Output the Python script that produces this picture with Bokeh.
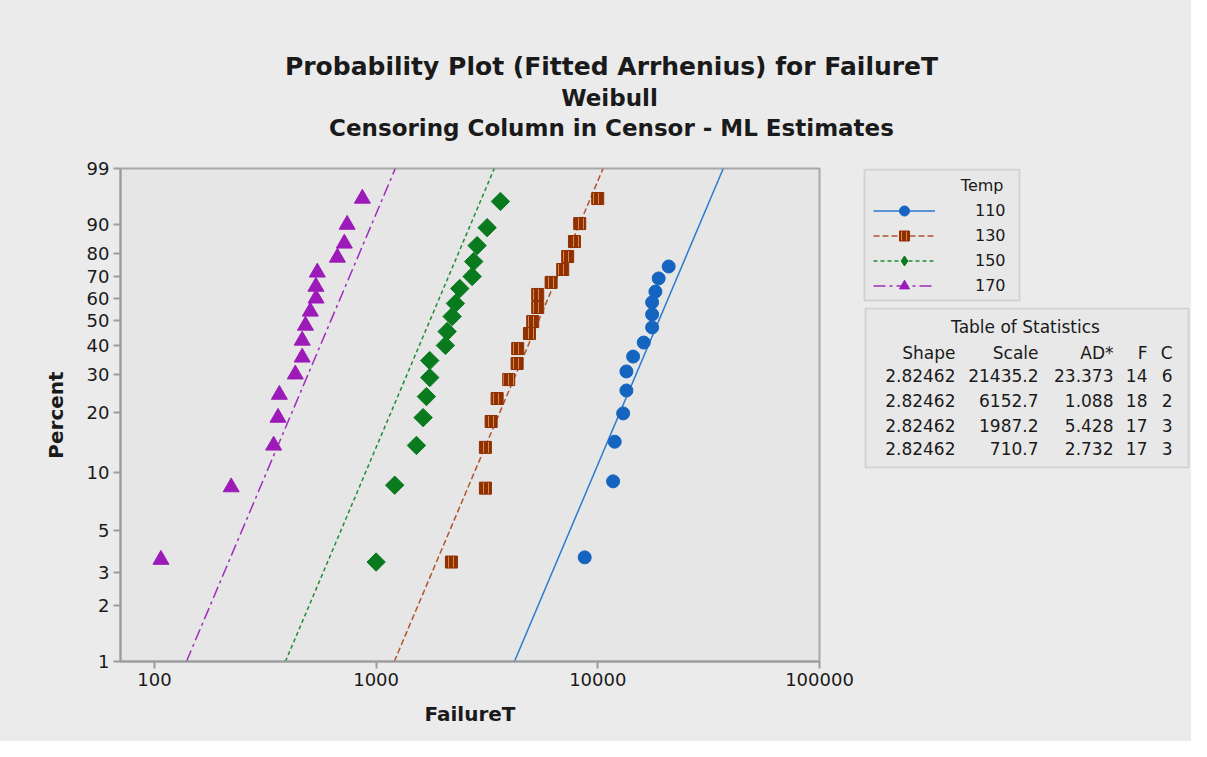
import numpy as np
from bokeh.plotting import figure
from bokeh.layouts import column, row
from bokeh.models import (Range1d, FixedTicker, CustomJSTickFormatter, Label,
                          Legend, LegendItem, BoxAnnotation)
from bokeh.embed import file_html
from bokeh.resources import INLINE

# ---------------- data ----------------
temps = ["110", "130", "150", "170"]
shape = [2.82462, 2.82462, 2.82462, 2.82462]
scale = [21435.2, 6152.7, 1987.2, 710.7]
ad_stat = ["23.373", "1.088", "5.428", "2.732"]
n_fail = ["14", "18", "17", "17"]
n_cens = ["6", "2", "3", "3"]

t110 = [20880, 18820, 18190, 17580, 17580, 17580, 16110, 14430, 13460, 13460, 13010, 11920, 11720, 8728]
p110 = [74.4, 69.1, 63.1, 58.2, 52.8, 47.2, 41.1, 35.9, 30.9, 25.3, 19.7, 14.3, 9.0, 3.6]

t130 = [9991, 8287, 7846, 7313, 6945, 6157, 5357, 5357, 5087, 4915, 4351, 4325, 3964, 3514, 3302, 3112, 3112, 2186]
p130 = [95.8, 90.2, 84.4, 78.6, 73.1, 67.3, 61.8, 55.9, 49.7, 44.7, 38.8, 33.5, 28.4, 23.2, 18.0, 13.4, 8.3, 3.4]

t150 = [3637, 3168, 2855, 2756, 2710, 2384, 2279, 2202, 2091, 2054, 1745, 1745, 1686, 1629, 1520, 1213, 1000]
p150 = [95.3, 89.0, 82.9, 76.5, 70.0, 64.5, 57.7, 51.9, 45.5, 40.0, 34.5, 29.0, 23.7, 18.8, 13.7, 8.6, 3.4]

t170 = [867, 740, 719, 669, 543, 535, 536, 505, 480, 464, 464, 432, 366, 361, 345, 222, 107]
p170 = [95.8, 89.9, 83.7, 78.2, 71.8, 65.4, 60.0, 54.1, 48.0, 41.9, 35.6, 30.0, 24.2, 18.8, 13.7, 8.4, 3.5]

y_tick_pct = [1, 2, 3, 5, 10, 20, 30, 40, 50, 60, 70, 80, 90, 99]
x_ticks = [100, 1000, 10000, 100000]
line_pct = [1, 99]

title_lines = ["Probability Plot (Fitted Arrhenius) for FailureT",
               "Weibull",
               "Censoring Column in Censor - ML Estimates"]
table_header = ["Shape", "Scale", "AD*", "F", "C"]


def weib(pct):
    pct = np.asarray(pct, dtype=float) / 100.0
    return np.log(-np.log(1.0 - pct))


FONT = "DejaVu Sans"
TXT = "#1a1a1a"
AXC = "#9c9c9c"
BG = "#ebebeb"

W, H = 1191, 741
TOP_H = 150
MAIN_W = 860
F_TOP, F_BOT, F_LEFT, F_RIGHT = 168, 661, 120, 819   # frame edges on the page

# ---------------- style of each group ----------------
styles = [
    dict(color="#1565c0", lcolor="#2b7bd0", dash="solid", marker="circle", size=13, angle=0.0, leg="circle"),
    dict(color="#8f2f04", lcolor="#b0562c", dash="6 3", marker="square", size=12, angle=0.0, leg="square"),
    dict(color="#0a7a1e", lcolor="#1f8c37", dash="4 3", marker="square", size=13, angle=np.pi / 4, leg="diamond"),
    dict(color="#9b1ab8", lcolor="#a02cbd", dash="12 4 3 4", marker="triangle", size=16, angle=0.0, leg="triangle"),
]
series_t = [t110, t130, t150, t170]
series_p = [p110, p130, p150, p170]
hatch = dict(hatch_pattern="vertical_line", hatch_color="#d98b3a", hatch_scale=5, hatch_weight=1)

# ---------------- title strip ----------------
top = figure(width=W, height=TOP_H, x_range=Range1d(0, W), y_range=Range1d(TOP_H, 0),
             output_backend="svg", toolbar_location=None, min_border=0,
             x_axis_location=None, y_axis_location=None,
             background_fill_color=BG, border_fill_color=BG, outline_line_color=None)
top.grid.visible = False
for txt, (tx, ty, fs) in zip(title_lines, [(611, 66, "25px"), (609, 97, "23px"), (611, 127, "23px")]):
    top.add_layout(Label(x=tx, y=ty, text=txt, text_align="center", text_baseline="alphabetic",
                         text_font=FONT, text_font_style="bold", text_font_size=fs, text_color=TXT))

# ---------------- main probability plot ----------------
p = figure(width=MAIN_W, height=H - TOP_H, x_axis_type="log",
           x_range=Range1d(70.3, 100000), y_range=Range1d(float(weib(1)), float(weib(99))),
           output_backend="svg", toolbar_location=None,
           min_border_left=F_LEFT, min_border_right=MAIN_W - F_RIGHT,
           min_border_top=F_TOP - TOP_H, min_border_bottom=H - F_BOT,
           background_fill_color="#e6e6e6", border_fill_color=BG)
p.grid.visible = False
p.outline_line_color = "#a8a8a8"
p.outline_line_width = 2

p.xaxis.ticker = FixedTicker(ticks=x_ticks)
p.xaxis.formatter = CustomJSTickFormatter(code="return Math.round(tick).toString();")
p.yaxis.ticker = FixedTicker(ticks=[float(v) for v in weib(y_tick_pct)])
p.yaxis.formatter = CustomJSTickFormatter(
    code="return Math.round(100*(1-Math.exp(-Math.exp(tick)))).toString();")
for ax in (p.xaxis, p.yaxis):
    ax.axis_line_color = AXC
    ax.axis_line_width = 2
    ax.major_tick_line_color = AXC
    ax.major_tick_line_width = 2
    ax.major_tick_in = 0
    ax.major_tick_out = 7
    ax.minor_tick_line_color = None
    ax.major_label_text_font = FONT
    ax.major_label_text_font_size = "18px"
    ax.major_label_text_color = TXT
    ax.major_label_standoff = 4
    ax.axis_label_text_font = FONT
    ax.axis_label_text_font_style = "bold"
    ax.axis_label_text_font_size = "20px"
    ax.axis_label_text_color = TXT
p.xaxis.axis_label = "FailureT"
p.xaxis.axis_label_standoff = 13
p.yaxis.axis_label = "Percent"
p.yaxis.axis_label_standoff = 16

for i, g in enumerate(styles):
    # fitted Weibull line from the table's shape and scale
    tl = [scale[i] * (-np.log(1 - q / 100.0)) ** (1.0 / shape[i]) for q in line_pct]
    p.line(tl, list(weib(line_pct)), line_color=g["lcolor"], line_width=1.5, line_dash=g["dash"])
    extra = hatch if i == 1 else {}
    p.scatter(series_t[i], list(weib(series_p[i])), marker=g["marker"], size=g["size"], angle=g["angle"],
              fill_color=g["color"], line_color=g["color"], **extra)

# ---------------- side panel: legend + table (page-pixel coordinates) ----------------
side = figure(width=W - MAIN_W, height=H - TOP_H,
              x_range=Range1d(MAIN_W, W), y_range=Range1d(F_BOT, F_TOP),
              output_backend="svg", toolbar_location=None,
              min_border_left=0, min_border_right=0,
              min_border_top=F_TOP - TOP_H, min_border_bottom=H - F_BOT,
              x_axis_location=None, y_axis_location=None,
              background_fill_color=BG, border_fill_color=BG, outline_line_color=None)
side.grid.visible = False

side.add_layout(BoxAnnotation(left=864, right=1019, top=169, bottom=300,
                              fill_color="#e8e8e8", fill_alpha=1, line_color="#a0a0a0", line_width=2,
                              level="underlay"))
side.add_layout(BoxAnnotation(left=865, right=1188, top=308, bottom=467,
                              fill_color="#e8e8e8", fill_alpha=1, line_color="#a0a0a0", line_width=2,
                              level="underlay"))

items = []
for i, g in enumerate(styles):
    # invisible placeholder renderers that only supply the legend samples
    lr = side.line(np.array([np.nan]), np.array([np.nan]), line_color=g["lcolor"], line_width=1.5,
                   line_dash=g["dash"])
    extra = hatch if i == 1 else {}
    mr = side.scatter(np.array([np.nan]), np.array([np.nan]), marker=g["leg"], fill_color=g["color"],
                      line_color=g["color"], **extra)
    items.append(LegendItem(label=temps[i], renderers=[lr, mr]))

legend = Legend(items=items, location=(873 - MAIN_W, F_BOT - 297.5), orientation="vertical",
                glyph_width=62, glyph_height=25, spacing=0, padding=0, margin=0,
                label_standoff=40, label_text_font=FONT, label_text_font_size="16px",
                label_text_color=TXT, border_line_color=None, background_fill_alpha=0)
side.add_layout(legend)

side.add_layout(Label(x=1003, y=185, text="Temp", text_align="right", text_baseline="middle",
                      text_font=FONT, text_font_size="16px", text_color=TXT))

side.add_layout(Label(x=1025, y=326, text="Table of Statistics", text_align="center",
                      text_baseline="middle", text_font=FONT, text_font_size="17px", text_color=TXT))
col_x = [955, 1038, 1113, 1147, 1172]
row_y = [352, 375, 400, 425, 448]
rows = [table_header] + [[f"{shape[i]:.5f}", f"{scale[i]:.1f}", ad_stat[i], n_fail[i], n_cens[i]]
                         for i in range(4)]
for r, cells in enumerate(rows):
    for c, cell in enumerate(cells):
        side.add_layout(Label(x=col_x[c], y=row_y[r], text=cell, text_align="right",
                              text_baseline="middle", text_font=FONT, text_font_size="17px",
                              text_color=TXT))

layout = column(top, row(p, side, spacing=0, styles={"background-color": BG}),
                spacing=0, styles={"background-color": BG})
open("out.html", "w").write(file_html(layout, INLINE))
